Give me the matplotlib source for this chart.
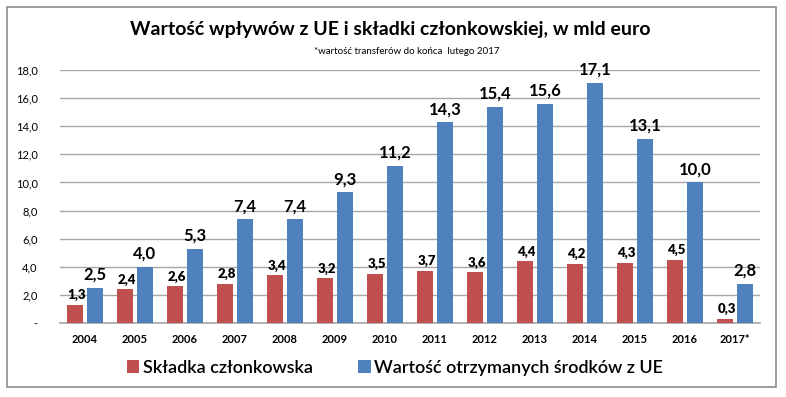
import matplotlib
matplotlib.use("Agg")
import matplotlib.pyplot as plt
from matplotlib.patches import Rectangle
import numpy as np

years = ["2004", "2005", "2006", "2007", "2008", "2009", "2010", "2011", "2012", "2013", "2014", "2015", "2016", "2017*"]
skladka = [1.3, 2.4, 2.6, 2.8, 3.4, 3.2, 3.5, 3.7, 3.6, 4.4, 4.2, 4.3, 4.5, 0.3]
wplywy = [2.5, 4.0, 5.3, 7.4, 7.4, 9.3, 11.2, 14.3, 15.4, 15.6, 17.1, 13.1, 10.0, 2.8]
yticks = [0, 2, 4, 6, 8, 10, 12, 14, 16, 18]
series_names = ["Składka członkowska", "Wartość otrzymanych środków z UE"]
title = "Wartość wpływów z UE i składki członkowskiej, w mld euro"
subtitle = "*wartość transferów do końca  lutego 2017"

RED = "#C0504D"
BLUE = "#4F81BD"
FONT = ["Lato", "DejaVu Sans"]

fig = plt.figure(figsize=(7.86, 3.97), dpi=100)
ax = fig.add_axes([60/786, 1-323/397, 700/786, 253/397])

x = np.arange(len(years))
w = 0.33
off = 0.2
ax.bar(x - off, skladka, width=w, color=RED, zorder=3, label=series_names[0])
ax.bar(x + off, wplywy, width=w, color=BLUE, zorder=3, label=series_names[1])

def fmt(v):
    return f"{v:.1f}".replace(".", ",")

for xi, v in zip(x, skladka):
    ax.text(xi - off + 0.03, v + 0.25, fmt(v), ha="center", va="bottom",
            fontsize=9.5, fontweight="heavy", family=FONT, zorder=4)
for xi, v in zip(x, wplywy):
    ax.text(xi + off, v + 0.35, fmt(v), ha="center", va="bottom",
            fontsize=12, fontweight="bold", family=FONT, zorder=4)

ax.set_xlim(-0.5, len(years) - 0.5)
ax.set_ylim(0, 18)
ax.set_yticks(yticks)
ax.set_yticklabels(["-" if t == 0 else fmt(t) for t in yticks], family=FONT, fontsize=8)
ax.set_xticks(x)
ax.set_xticklabels(years, family=FONT, fontsize=8, fontweight="bold")
ax.tick_params(axis="both", length=0)
ax.tick_params(axis="y", pad=16)
ax.tick_params(axis="x", pad=8)
ax.grid(axis="y", color="#A6A6A6", linewidth=1.0, zorder=0)
for s in ["left", "right", "top"]:
    ax.spines[s].set_visible(False)
ax.spines["bottom"].set_color("#A6A6A6")
ax.spines["bottom"].set_linewidth(1.2)

fig.text(390/786, 1-30/397, title, ha="center", va="center", fontsize=14,
         fontweight="bold", family=FONT)
fig.text(407/786, 1-52/397, subtitle, ha="center", va="center", fontsize=7, family=FONT)

leg = fig.legend(loc="center", bbox_to_anchor=(395/786, 1-368/397), ncol=2,
                 frameon=False, prop={"family": FONT, "size": 13, "weight": "semibold"},
                 handlelength=0.7, handleheight=0.7, handletextpad=0.2, columnspacing=2.5)

fig.add_artist(Rectangle((7/786, 1-387/397), 769/786, 380/397, transform=fig.transFigure,
                         fill=False, edgecolor="#8C8C8C", linewidth=1.2))

fig.savefig("out.png", dpi=100)
